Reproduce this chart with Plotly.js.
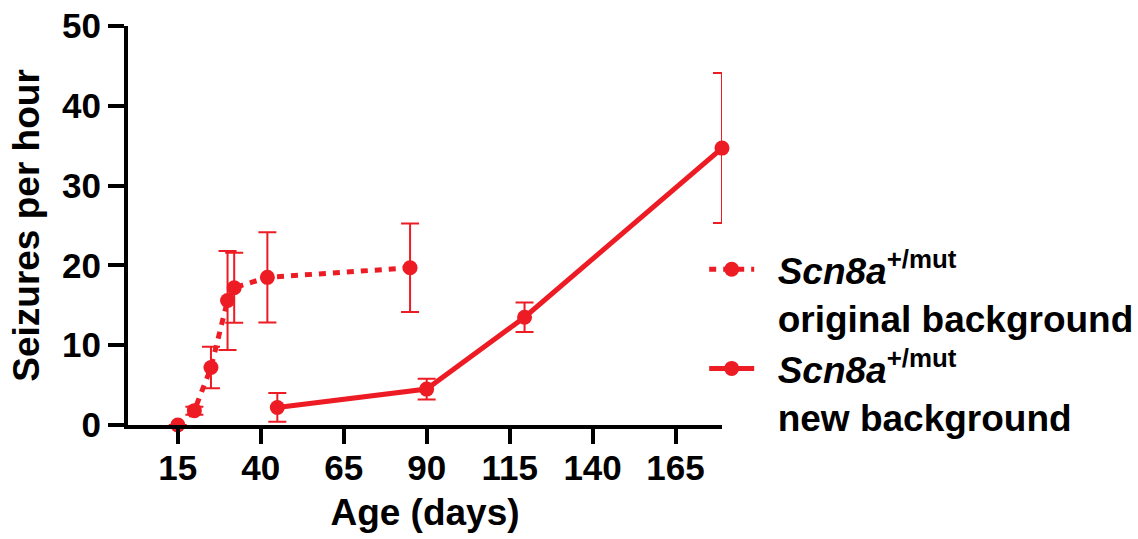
<!DOCTYPE html>
<html>
<head>
<meta charset="utf-8">
<script src="https://cdn.plot.ly/plotly-3.0.1.min.js"></script>
<style>
html,body{margin:0;padding:0;background:#fff;}
#chart{width:1138px;height:539px;}
</style>
</head>
<body>
<div id="chart"></div>
<script>
// Scn8a+/mut, original background (dotted)
const daysOriginal = [15, 20, 25, 30, 32, 42, 85];
const seizOriginal = [0, 1.8, 7.2, 15.6, 17.2, 18.5, 19.7];
const errOriginal  = [0, 0.5, 2.6, 6.2, 4.4, 5.65, 5.55];

// Scn8a+/mut, new background (solid)
const daysNew = [45, 90, 119.5, 179];
const seizNew = [2.2, 4.5, 13.5, 34.7];
const errNew  = [1.8, 1.3, 1.85, 9.4];

const PAD = "\u2002";
const nameOriginal = PAD + "<i>Scn8a</i><sup>+/mut</sup><br>" + PAD + "original background";
const nameNew = PAD + "<i>Scn8a</i><sup>+/mut</sup><br>" + PAD + "new background";

const xTickVals = [15, 40, 65, 90, 115, 140, 165];
const yTickVals = [0, 10, 20, 30, 40, 50];

const RED = "#ED1C24";
const FONT = "Liberation Sans, Arial, sans-serif";

const traces = [
  {
    x: daysOriginal, y: seizOriginal, name: nameOriginal,
    type: "scatter", mode: "lines+markers", cliponaxis: false,
    line: {color: RED, width: 5, dash: "7px,7px"},
    marker: {color: RED, size: 15},
    error_y: {type: "data", array: errOriginal, visible: true, color: RED, thickness: 2, width: 9}
  },
  {
    x: daysNew, y: seizNew, name: nameNew,
    type: "scatter", mode: "lines+markers", cliponaxis: false,
    line: {color: RED, width: 5},
    marker: {color: RED, size: 15},
    error_y: {type: "data", array: errNew, visible: true, color: RED, thickness: 2, width: 9}
  }
];

const layout = {
  width: 1138, height: 539,
  paper_bgcolor: "#fff", plot_bgcolor: "#fff",
  margin: {l: 128, r: 416, t: 26, b: 114, pad: 0, autoexpand: false},
  font: {family: FONT, size: 36, color: "#000", weight: 700},
  showlegend: true,
  legend: {
    x: 0.970, xanchor: "left", y: 0.467, yanchor: "top",
    valign: "top", itemwidth: 45,
    font: {family: FONT, size: 37, color: "#000", weight: 700},
    bgcolor: "rgba(0,0,0,0)", tracegroupgap: 0
  },
  xaxis: {
    range: [0, 179], tickmode: "array", tickvals: xTickVals,
    ticktext: xTickVals.map(String),
    showgrid: false, zeroline: false,
    showline: true, linecolor: "#000", linewidth: 4,
    ticks: "outside", ticklen: 15, tickwidth: 4, tickcolor: "#000",
    ticklabelstandoff: -6,
    tickfont: {family: FONT, size: 35, color: "#000", weight: 700},
    title: {text: "Age (days)", standoff: 14, font: {family: FONT, size: 37, color: "#000", weight: 700}}
  },
  yaxis: {
    range: [0, 50], tickmode: "array", tickvals: yTickVals,
    ticktext: yTickVals.map(String),
    showgrid: false, zeroline: false,
    showline: true, linecolor: "#000", linewidth: 4,
    ticks: "outside", ticklen: 16, tickwidth: 4, tickcolor: "#000",
    tickfont: {family: FONT, size: 35, color: "#000", weight: 700},
    title: {text: "Seizures per hour", standoff: 12, font: {family: FONT, size: 37, color: "#000", weight: 700}}
  }
};

Plotly.newPlot("chart", traces, layout, {displayModeBar: false, staticPlot: true});
</script>
</body>
</html>
